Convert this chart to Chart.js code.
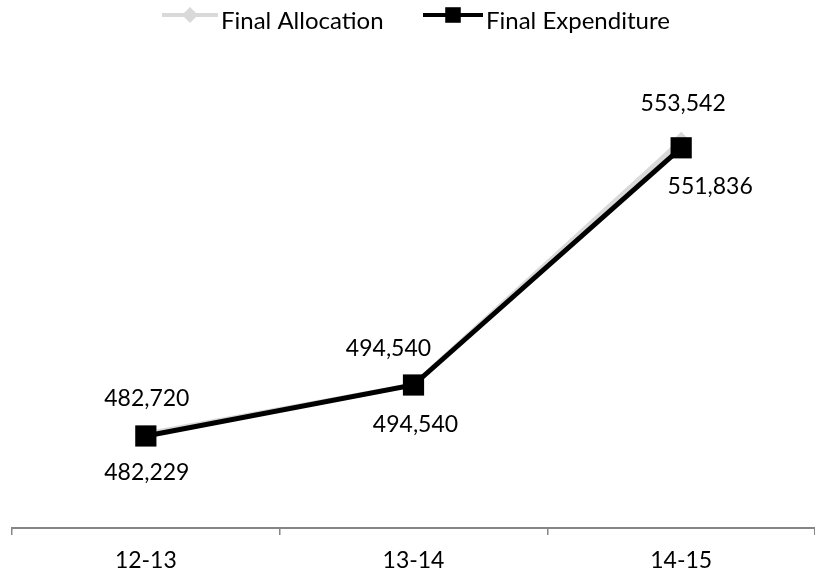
<!DOCTYPE html>
<html>
<head>
<meta charset="utf-8">
<script src="https://cdn.jsdelivr.net/npm/chart.js@4.4.0/dist/chart.umd.min.js"></script>
<style>
  html, body { margin: 0; padding: 0; background: #fff; }
</style>
</head>
<body>
<canvas id="chart" width="815" height="574"></canvas>
<script>
const categories = ['12-13', '13-14', '14-15'];
const finalAllocation = [482720, 494540, 553542];
const finalExpenditure = [482229, 494540, 551836];
const yMin = 460000;
const yMax = 560000;

const FONT = 'Lato, "Open Sans", sans-serif';
const FONT_SIZE = 23;
const GREY = '#d9d9d9';

// where each value label sits relative to its point, [dx, dy]
const labelOffsets = [
  [[1, -35], [-25, -36], [2, -37]],
  [[1, 37], [2, 40], [29, 39]],
];

const valueLabels = {
  id: 'valueLabels',
  afterDatasetsDraw(chart) {
    const ctx = chart.ctx;
    ctx.save();
    ctx.font = FONT_SIZE + 'px ' + FONT;
    ctx.fillStyle = '#000';
    ctx.textAlign = 'center';
    ctx.textBaseline = 'middle';
    chart.data.datasets.forEach((ds, i) => {
      const meta = chart.getDatasetMeta(i);
      meta.data.forEach((pt, j) => {
        const [dx, dy] = labelOffsets[i][j];
        ctx.fillText(ds.data[j].toLocaleString('en-US'), pt.x + dx, pt.y + dy);
      });
    });
    ctx.restore();
  }
};

// line-with-marker legend, like the spreadsheet one
const lineLegend = {
  id: 'lineLegend',
  afterDraw(chart) {
    const ctx = chart.ctx;
    const items = [
      { ds: 0, x: 162, w: 56 },
      { ds: 1, x: 423, w: 60 },
    ];
    const y = 15;
    ctx.save();
    items.forEach(it => {
      const ds = chart.data.datasets[it.ds];
      ctx.strokeStyle = ds.borderColor;
      ctx.lineWidth = 4;
      ctx.beginPath();
      ctx.moveTo(it.x, y);
      ctx.lineTo(it.x + it.w, y);
      ctx.stroke();
      ctx.fillStyle = ds.pointBackgroundColor;
      Chart.helpers.drawPoint(ctx, {
        pointStyle: ds.pointStyle,
        radius: ds.pointStyle === 'rect' ? 11 : 8,
        rotation: 0,
        borderWidth: 0,
      }, it.x + it.w / 2, y);
      ctx.fillStyle = '#000';
      ctx.font = '24px ' + FONT;
      ctx.textBaseline = 'alphabetic';
      ctx.textAlign = 'left';
      ctx.fillText(ds.label, it.x + it.w + 3, y + 14);
    });
    ctx.restore();
  }
};

new Chart(document.getElementById('chart'), {
  type: 'line',
  data: {
    labels: categories,
    datasets: [
      {
        label: 'Final Allocation',
        data: finalAllocation,
        borderColor: GREY,
        backgroundColor: GREY,
        pointBackgroundColor: GREY,
        pointBorderColor: GREY,
        borderWidth: 5,
        pointStyle: 'rectRot',
        pointRadius: 9,
        pointBorderWidth: 0,
        order: 2,
      },
      {
        label: 'Final Expenditure',
        data: finalExpenditure,
        borderColor: '#000',
        backgroundColor: '#000',
        pointBackgroundColor: '#000',
        pointBorderColor: '#000',
        borderWidth: 5,
        pointStyle: 'rect',
        pointRadius: 15,
        pointBorderWidth: 0,
        order: 1,
      },
    ],
  },
  options: {
    responsive: false,
    animation: false,
    clip: false,
    layout: { autoPadding: false, padding: { top: 114, left: 12, right: 0, bottom: 0 } },
    plugins: {
      legend: { display: false },
      tooltip: { enabled: false },
    },
    scales: {
      x: {
        offset: true,
        grid: {
          offset: true,
          drawOnChartArea: false,
          drawTicks: true,
          tickLength: 7,
          color: '#868686',
          lineWidth: 1.5,
        },
        border: { display: true, color: '#868686', width: 2 },
        ticks: {
          color: '#000',
          padding: 12,
          font: { family: FONT, size: FONT_SIZE },
        },
        afterFit(scale) {
          scale.height = 46;
        },
      },
      y: {
        display: false,
        min: yMin,
        max: yMax,
      },
    },
  },
  plugins: [valueLabels, lineLegend],
});
</script>
</body>
</html>
